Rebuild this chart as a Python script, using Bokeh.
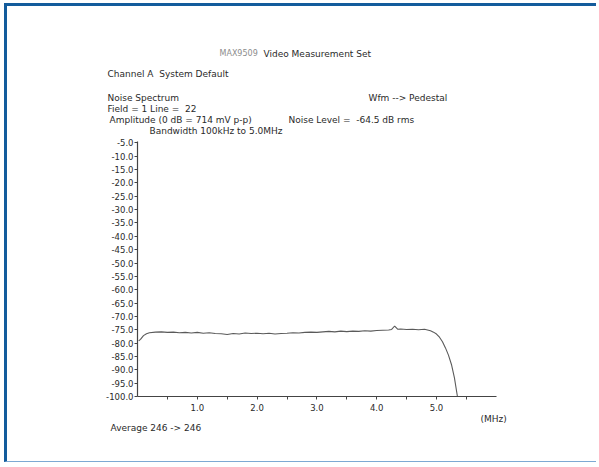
from bokeh.plotting import figure
from bokeh.models import Label, FixedTicker, PrintfTickFormatter
from bokeh.embed import file_html
from bokeh.resources import INLINE

# ---- data ----
freq_mhz = [0.02, 0.05, 0.1, 0.15, 0.2, 0.3, 0.4, 0.5, 0.6, 0.7, 0.8, 0.9, 1.0,
            1.1, 1.2, 1.3, 1.4, 1.5, 1.6, 1.7, 1.8, 1.9, 2.0, 2.1, 2.2, 2.3, 2.4,
            2.5, 2.6, 2.7, 2.8, 2.9, 3.0, 3.1, 3.2, 3.3, 3.4, 3.5, 3.6, 3.7, 3.8,
            3.9, 4.0, 4.1, 4.2, 4.25, 4.3, 4.35, 4.4, 4.5, 4.6, 4.7, 4.8, 4.9,
            4.95, 5.0, 5.05, 5.1, 5.15, 5.2, 5.25, 5.3, 5.35]
noise_db = [-79.2, -78.6, -77.2, -76.5, -76.1, -75.9, -75.8, -76.0, -75.9, -76.1,
            -76.0, -76.2, -76.0, -76.3, -76.1, -76.4, -76.5, -76.8, -76.4, -76.6,
            -76.2, -76.4, -76.3, -76.5, -76.3, -76.6, -76.4, -76.3, -76.1, -76.2,
            -76.0, -75.9, -76.0, -75.8, -75.6, -75.8, -75.5, -75.7, -75.5, -75.6,
            -75.4, -75.5, -75.3, -75.2, -75.1, -74.9, -73.6, -74.8, -74.7, -74.9,
            -74.8, -75.0, -74.8, -75.4, -75.9, -76.6, -77.8, -79.5, -81.8, -84.5,
            -88.0, -93.0, -100.0]

x_ticks = [1.0, 2.0, 3.0, 4.0, 5.0]
x_minor_ticks = [0.5, 1.5, 2.5, 3.5, 4.5, 5.5]
y_ticks = [-5, -10, -15, -20, -25, -30, -35, -40, -45, -50, -55, -60, -65,
           -70, -75, -80, -85, -90, -95, -100]

NB = "\u00a0"
TXT = "#2a2a2a"
text_items = [
    ("MAX9509", 219, 53, "#8c8c8c", "8px"),
    ("Video Measurement Set", 263, 53, TXT, "9px"),
    ("Channel A" + NB + NB + "System Default", 107, 73, TXT, "9px"),
    ("Noise Spectrum", 107, 97, TXT, "9px"),
    ("Wfm --> Pedestal", 368, 97, TXT, "9px"),
    ("Field = 1 Line =" + NB + NB + "22", 107, 108, TXT, "9px"),
    ("Amplitude (0 dB = 714 mV p-p)", 109, 119, TXT, "9px"),
    ("Noise Level =" + NB + NB + "-64.5 dB rms", 288, 119, TXT, "9px"),
    ("Bandwidth 100kHz to 5.0MHz", 149, 130, TXT, "9px"),
    ("(MHz)", 480, 418, TXT, "9px"),
    ("Average 246 -> 246", 110, 427, TXT, "9px"),
]

# ---- layout (page pixels) ----
CANVAS_X, CANVAS_Y = 7, 6          # after css margin + border
W, H = 592, 459
FONT = "DejaVu Sans"

X0_PAGE, XPX_PER_MHZ = 137.0, 59.8
Y100_PAGE, YPX_PER_DB = 396.0, 2.67

mb_left, mb_right, mb_top, mb_bottom = 60, 8, 10, 30
frame_left_page = CANVAS_X + mb_left
frame_right_page = CANVAS_X + W - mb_right
frame_top_page = CANVAS_Y + mb_top
frame_bottom_page = CANVAS_Y + H - mb_bottom

x_start = (frame_left_page - X0_PAGE) / XPX_PER_MHZ
x_end = (frame_right_page - X0_PAGE) / XPX_PER_MHZ
y_start = -100 - (frame_bottom_page - Y100_PAGE) / YPX_PER_DB
y_end = -100 + (Y100_PAGE - frame_top_page) / YPX_PER_DB

p = figure(width=W, height=H, output_backend="svg", toolbar_location=None,
           x_range=(x_start, x_end), y_range=(y_start, y_end),
           min_border_left=mb_left, min_border_right=mb_right,
           min_border_top=mb_top, min_border_bottom=mb_bottom,
           styles={"margin-left": "4px", "margin-top": "3px",
                   "border-top": "3px solid #135c9c",
                   "border-left": "3px solid #135c9c",
                   "border-bottom": "1px solid #7da9d3"})
p.outline_line_color = None
p.grid.visible = False
p.background_fill_color = "white"
p.border_fill_color = "white"

p.line(freq_mhz, noise_db, line_color="#5a5a5a", line_width=1.1)

p.xaxis.fixed_location = -100
p.yaxis.fixed_location = 0
p.xaxis.ticker = FixedTicker(ticks=x_ticks, minor_ticks=x_minor_ticks)
p.xaxis.formatter = PrintfTickFormatter(format="%.1f")
p.xaxis.bounds = (0, 6.0)
p.yaxis.ticker = FixedTicker(ticks=y_ticks)
p.yaxis.formatter = PrintfTickFormatter(format="%.1f")
p.yaxis.bounds = (-100, -4.5)

for ax in (p.xaxis, p.yaxis):
    ax.axis_line_color = "#444444"
    ax.axis_line_width = 1.2
    ax.major_tick_line_color = "#444444"
    ax.minor_tick_line_color = "#444444"
    ax.major_tick_in = 0
    ax.major_tick_out = 3
    ax.minor_tick_in = 0
    ax.minor_tick_out = 3
    ax.major_label_text_font = FONT
    ax.major_label_text_font_size = "8.5px"
    ax.major_label_text_color = TXT
p.xaxis.major_label_standoff = 4
p.yaxis.major_label_standoff = 1


def to_data(px, py):
    return (px - X0_PAGE) / XPX_PER_MHZ, -100 + (Y100_PAGE - py) / YPX_PER_DB


for txt, px, py, col, fs in text_items:
    lx, ly = to_data(px, py)
    p.add_layout(Label(x=lx, y=ly, text=txt, text_font=FONT,
                       text_font_size=fs, text_color=col,
                       text_baseline="middle", text_align="left"))

open("out.html", "w").write(file_html(p, INLINE))
